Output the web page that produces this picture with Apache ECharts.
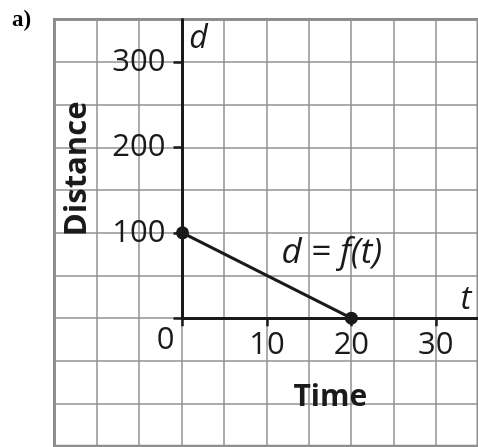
<!DOCTYPE html>
<html>
<head>
<meta charset="utf-8">
<script src="https://cdn.jsdelivr.net/npm/echarts@6/dist/echarts.min.js"></script>
<style>
  html, body { margin: 0; padding: 0; background: #fff; }
  #chart { width: 478px; height: 447px; }
</style>
</head>
<body>
<div id="chart"></div>
<script>
// data
var timeValues = [0, 20];
var distValues = [100, 0];
var xTicks = [0, 10, 20, 30];
var xTickLabels = [10, 20, 30];
var yTicks = [0, 100, 200, 300];
var yTickLabels = [100, 200, 300];

var font = "'Open Sans', 'Noto Sans', sans-serif";
var ink = '#1a1a1a';
var gridGrey = '#909090';

var chart = echarts.init(document.getElementById('chart'));

var option = {
    animation: false,
    backgroundColor: '#fff',
    title: {
        text: 'a)',
        left: 7,
        top: 4,
        textStyle: { fontFamily: "'Liberation Serif', serif", fontWeight: 'bold', fontSize: 23, color: '#000' }
    },
    grid: [
        // background squared paper
        { left: 54.5, top: 19.5, width: 426.7, height: 426.7, show: true, borderColor: '#8a8a8a', borderWidth: 3, z: 0 },
        // first quadrant with the real axes
        { left: 182.5, top: 19.5, width: 298.7, height: 298.7 }
    ],
    xAxis: [
        {
            gridIndex: 0, type: 'value', min: -15, max: 35, interval: 5,
            axisLine: { show: false }, axisTick: { show: false }, axisLabel: { show: false },
            splitLine: { show: true, lineStyle: { color: gridGrey, width: 1.5 } }
        },
        {
            gridIndex: 1, type: 'value', min: 0, max: 35,
            name: 'Time', nameLocation: 'middle', nameGap: 64,
            nameTextStyle: { fontFamily: font, fontWeight: 'bold', fontSize: 30, color: ink },
            axisLine: { show: true, onZero: false, lineStyle: { color: ink, width: 3 } },
            axisTick: { show: true, customValues: xTicks, length: 8, lineStyle: { color: ink, width: 2.5 } },
            axisLabel: { show: true, customValues: xTickLabels, margin: 11, fontFamily: font, fontSize: 31, color: ink },
            splitLine: { show: false }
        }
    ],
    yAxis: [
        {
            gridIndex: 0, type: 'value', min: -150, max: 350, interval: 50,
            axisLine: { show: false }, axisTick: { show: false }, axisLabel: { show: false },
            splitLine: { show: true, lineStyle: { color: gridGrey, width: 1.5 } }
        },
        {
            gridIndex: 1, type: 'value', min: 0, max: 350,
            name: 'Distance', nameLocation: 'middle', nameGap: 90,
            nameTextStyle: { fontFamily: font, fontWeight: 'bold', fontSize: 31, color: ink },
            axisLine: { show: true, onZero: false, lineStyle: { color: ink, width: 3 } },
            axisTick: { show: true, customValues: yTicks, length: 9, lineStyle: { color: ink, width: 2.5 } },
            axisLabel: { show: true, customValues: yTickLabels, margin: 17, fontFamily: font, fontSize: 31, color: ink },
            splitLine: { show: false }
        }
    ],
    series: [
        {
            type: 'line',
            xAxisIndex: 1,
            yAxisIndex: 1,
            clip: false,
            data: timeValues.map(function (t, i) { return [t, distValues[i]]; }),
            symbol: 'circle',
            symbolSize: 13,
            itemStyle: { color: ink },
            lineStyle: { color: ink, width: 3 },
            markPoint: {
                symbol: 'circle',
                symbolSize: 0,
                silent: true,
                data: [
                    {
                        coord: [0, 0],
                        label: { show: true, formatter: '0', offset: [-17, 22], fontFamily: font, fontSize: 31, color: ink }
                    },
                    {
                        coord: [17.7, 76],
                        label: { show: true, formatter: 'd = f(t)', fontFamily: font, fontStyle: 'italic', fontSize: 35, color: ink }
                    },
                    {
                        coord: [0, 350],
                        label: { show: true, formatter: 'd', offset: [16, 19], fontFamily: font, fontStyle: 'italic', fontSize: 32, color: ink }
                    },
                    {
                        coord: [35, 0],
                        label: { show: true, formatter: 't', offset: [-12, -19], fontFamily: font, fontStyle: 'italic', fontSize: 33, color: ink }
                    }
                ]
            }
        }
    ]
};

chart.setOption(option);
</script>
</body>
</html>
